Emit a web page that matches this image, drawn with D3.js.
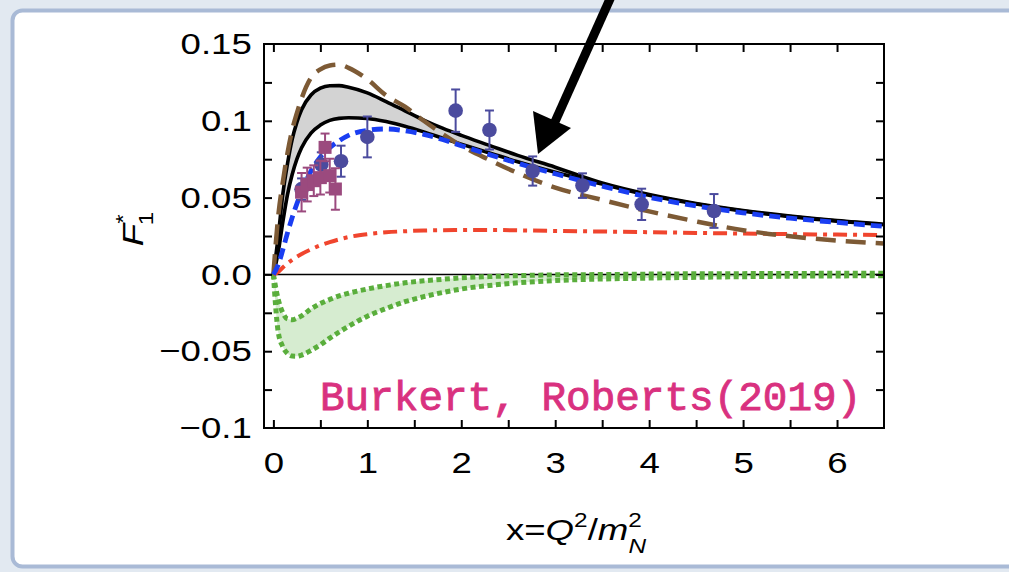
<!DOCTYPE html>
<html><head><meta charset="utf-8">
<script src="https://cdn.jsdelivr.net/npm/d3@7"></script>
<style>html,body{margin:0;padding:0;overflow:hidden;background:#e2e9f1}</style>
</head><body>
<svg id="chart" width="1009" height="572"></svg>
<script>
// ---------- data ----------
const gridX       = [0, 0.05, 0.1, 0.15, 0.2, 0.25, 0.3, 0.4, 0.5, 0.6, 0.7, 0.8, 1.0, 1.2, 1.4, 1.6, 1.8, 2.0, 2.3, 2.6, 3.0, 3.5, 4.0, 4.5, 5.0, 5.5, 6.0, 6.5];
const blackUpper  = [0, 0.024, 0.052, 0.072, 0.088, 0.099, 0.1072, 0.1168, 0.1212, 0.1228, 0.1229, 0.1218, 0.1182, 0.1125, 0.1065, 0.1005, 0.0952, 0.0905, 0.084, 0.0775, 0.0698, 0.0595, 0.052, 0.0462, 0.0416, 0.038, 0.035, 0.0326];
const blackLower  = [0, 0.014, 0.034, 0.052, 0.065, 0.075, 0.0825, 0.092, 0.0972, 0.1003, 0.1016, 0.102, 0.1015, 0.0995, 0.0965, 0.0928, 0.0888, 0.0848, 0.079, 0.0734, 0.0665, 0.0588, 0.0515, 0.0458, 0.0412, 0.0376, 0.0347, 0.0323];
const brownDashed = [0, 0.037, 0.060, 0.079, 0.094, 0.105, 0.1145, 0.128, 0.1335, 0.136, 0.1365, 0.1345, 0.127, 0.1165, 0.1092, 0.1, 0.0915, 0.0838, 0.0745, 0.066, 0.0565, 0.0485, 0.041, 0.0345, 0.0288, 0.0248, 0.022, 0.0201];
const blueDashed  = [0, 0.006, 0.016, 0.027, 0.037, 0.046, 0.054, 0.0672, 0.0765, 0.0825, 0.087, 0.0905, 0.0938, 0.0947, 0.0935, 0.0912, 0.0878, 0.0838, 0.078, 0.0724, 0.0655, 0.0575, 0.0502, 0.0446, 0.0401, 0.0366, 0.0338, 0.0313];
const redDashDot  = [0, 0.0015, 0.0045, 0.0072, 0.0095, 0.0115, 0.0133, 0.0163, 0.0189, 0.021, 0.0228, 0.0243, 0.0262, 0.0274, 0.0281, 0.0286, 0.0288, 0.0289, 0.0289, 0.0287, 0.0283, 0.0279, 0.0275, 0.027, 0.0266, 0.0262, 0.0259, 0.0256];
const greenUpper  = [0, -0.016, -0.025, -0.029, -0.0295, -0.0285, -0.027, -0.0225, -0.019, -0.0163, -0.014, -0.0123, -0.0095, -0.0073, -0.0055, -0.0042, -0.0032, -0.0022, -0.0014, -0.0008, -0.0003, -0.0001, 0.0002, 0.0004, 0.0005, 0.0006, 0.0007, 0.0007];
const greenLower  = [0, -0.037, -0.047, -0.0515, -0.0532, -0.0533, -0.0525, -0.0495, -0.0458, -0.0415, -0.0375, -0.0338, -0.0272, -0.0222, -0.0178, -0.0145, -0.0118, -0.0095, -0.0072, -0.0055, -0.004, -0.003, -0.0024, -0.0019, -0.0015, -0.0012, -0.001, -0.0008];

const circleX   = [0.30, 0.51, 0.72, 1.00, 1.94, 2.30, 2.76, 3.29, 3.92, 4.69];
const circleY   = [0.0555, 0.0715, 0.0737, 0.0895, 0.1066, 0.094, 0.0673, 0.0578, 0.0456, 0.0413];
const circleErr = [0.007, 0.008, 0.0101, 0.0133, 0.0138, 0.0127, 0.0095, 0.008, 0.0102, 0.011];

const squareX   = [0.30, 0.36, 0.43, 0.50, 0.55, 0.60, 0.66];
const squareY   = [0.0535, 0.0585, 0.061, 0.063, 0.0827, 0.0643, 0.0556];
const squareErr = [0.0125, 0.011, 0.010, 0.011, 0.009, 0.011, 0.0135];

const xTickLabels = ["0", "1", "2", "3", "4", "5", "6"];
const xTickValues = [0, 1, 2, 3, 4, 5, 6];
const yTickLabels = ["\u22120.1", "\u22120.05", "0.0", "0.05", "0.1", "0.15"];
const yTickValues = [-0.1, -0.05, 0, 0.05, 0.1, 0.15];
const annotation  = "Burkert, Roberts(2019)";

// ---------- layout ----------
const L = 264, R = 884, T = 44, B = 428;
const FONT = "'Liberation Sans', Arial, Helvetica, sans-serif";
const STRETCH = 1.22;

const svg = d3.select("#chart");
svg.append("rect").attr("width", 1009).attr("height", 572).attr("fill", "#e2e9f1");
svg.append("rect").attr("x", 12.5).attr("y", 10.5).attr("width", 1040).attr("height", 556)
   .attr("rx", 10).attr("fill", "#ffffff").attr("stroke", "#a9bad6").attr("stroke-width", 4);

const x = d3.scaleLinear().domain([-0.1, 6.5]).range([L, R]);
const y = d3.scaleLinear().domain([-0.1, 0.15]).range([B, T]);

svg.append("clipPath").attr("id", "plotclip").append("rect")
   .attr("x", L).attr("y", T).attr("width", R - L).attr("height", B - T);
const plot = svg.append("g").attr("clip-path", "url(#plotclip)");

const pts = arr => gridX.map((v, i) => [v, arr[i]]);
const line = d3.line().x(d => x(d[0])).y(d => y(d[1])).curve(d3.curveMonotoneX);
const band = (lo, hi) => d3.area().x((d, i) => x(gridX[i])).y0((d, i) => y(lo[i])).y1((d, i) => y(hi[i])).curve(d3.curveMonotoneX)(gridX);

// fills
plot.append("path").attr("d", band(blackLower, blackUpper)).attr("fill", "#d3d3d3");
plot.append("path").attr("d", band(greenLower, greenUpper)).attr("fill", "#d6ecd0");

// zero line
plot.append("line").attr("x1", L).attr("x2", R).attr("y1", y(0)).attr("y2", y(0))
    .attr("stroke", "#000").attr("stroke-width", 1.5);

// curves
const drawCurve = (arr, color, w, dash) => plot.append("path").attr("d", line(pts(arr)))
    .attr("fill", "none").attr("stroke", color).attr("stroke-width", w)
    .attr("stroke-dasharray", dash || null);
drawCurve(blackUpper, "#000", 3.6);
drawCurve(blackLower, "#000", 3.6);
drawCurve(greenUpper, "#5aae3c", 5, "5,3.5");
drawCurve(greenLower, "#5aae3c", 5, "5,3.5");
drawCurve(redDashDot, "#f0452e", 4, "14,6,4,6");
drawCurve(brownDashed, "#7d5a35", 4.5, "20,10");
drawCurve(blueDashed, "#1a3ef2", 4.8, "11,6");

// data points
const drawErr = (xs, ys, es, color) => {
  xs.forEach((v, i) => {
    const cx = x(v), y1 = y(ys[i] + es[i]), y2 = y(ys[i] - es[i]);
    plot.append("line").attr("x1", cx).attr("x2", cx).attr("y1", y1).attr("y2", y2).attr("stroke", color).attr("stroke-width", 2);
    [y1, y2].forEach(yy => plot.append("line").attr("x1", cx - 4.5).attr("x2", cx + 4.5).attr("y1", yy).attr("y2", yy).attr("stroke", color).attr("stroke-width", 2));
  });
};
drawErr(circleX, circleY, circleErr, "#4b4b9e");
plot.selectAll("circle.pt").data(circleX).enter().append("circle")
    .attr("cx", d => x(d)).attr("cy", (d, i) => y(circleY[i])).attr("r", 7.3).attr("fill", "#4b4b9e");
drawErr(squareX, squareY, squareErr, "#9b4a7e");
plot.selectAll("rect.sq").data(squareX).enter().append("rect")
    .attr("x", d => x(d) - 6.5).attr("y", (d, i) => y(squareY[i]) - 6.5).attr("width", 13).attr("height", 13).attr("fill", "#9b4a7e");

// frame
svg.append("rect").attr("x", L).attr("y", T).attr("width", R - L).attr("height", B - T)
   .attr("fill", "none").attr("stroke", "#000").attr("stroke-width", 2);

// minor/major inward ticks (all sides)
const xt = d3.range(0, 6.01, 0.5);
const yt = d3.range(-0.075, 0.1251, 0.025);
const tickStyle = g => { g.select(".domain").remove(); g.selectAll("line").attr("stroke", "#000").attr("stroke-width", 2); g.selectAll("text").remove(); };
svg.append("g").attr("transform", `translate(0,${B})`).call(d3.axisBottom(x).tickValues(xt).tickSize(-8)).call(tickStyle);
svg.append("g").attr("transform", `translate(0,${T})`).call(d3.axisTop(x).tickValues(xt).tickSize(-8)).call(tickStyle);
svg.append("g").attr("transform", `translate(${L},0)`).call(d3.axisLeft(y).tickValues(yt).tickSize(-8)).call(tickStyle);
svg.append("g").attr("transform", `translate(${R},0)`).call(d3.axisRight(y).tickValues(yt).tickSize(-8)).call(tickStyle);

// tick labels
const lab = g => { g.select(".domain").remove(); g.selectAll("text").attr("font-family", FONT).attr("font-size", 30).attr("fill", "#000"); };
const gx = svg.append("g").attr("transform", `translate(0,${B})`)
   .call(d3.axisBottom(x).tickValues(xTickValues).tickFormat((d, i) => xTickLabels[i]).tickSize(0).tickPadding(24)).call(lab);
gx.selectAll("text").attr("transform", `scale(${STRETCH},1)`);
const gy = svg.append("g").attr("transform", `translate(${L},0)`)
   .call(d3.axisLeft(y).tickValues(yTickValues).tickFormat((d, i) => yTickLabels[i]).tickSize(0).tickPadding(10)).call(lab);
gy.selectAll("text").attr("transform", `scale(${STRETCH},1)`);

// axis titles
const yl = svg.append("text").attr("transform", `translate(143,229) rotate(-90) scale(${STRETCH},1)`)
   .attr("text-anchor", "middle").attr("font-family", FONT).attr("font-size", 30);
yl.append("tspan").attr("font-style", "italic").text("F");
yl.append("tspan").attr("font-size", 20).attr("dy", -13).text("*");
yl.append("tspan").attr("font-size", 20).attr("dx", -9).attr("dy", 23).text("1");

const xl = svg.append("text").attr("transform", `translate(576,540) scale(${STRETCH},1)`)
   .attr("text-anchor", "middle").attr("font-family", FONT).attr("font-size", 30);
xl.append("tspan").text("x=");
xl.append("tspan").attr("font-style", "italic").text("Q");
xl.append("tspan").attr("font-size", 20).attr("dy", -13).text("2");
xl.append("tspan").attr("dy", 13).text("/");
xl.append("tspan").attr("font-style", "italic").text("m");
xl.append("tspan").attr("font-size", 20).attr("dy", -13).text("2");
xl.append("tspan").attr("font-size", 20).attr("font-style", "italic").attr("dx", -11).attr("dy", 26).text("N");

// annotation text
svg.append("text").attr("x", 320).attr("y", 410).attr("font-family", "'Liberation Mono', 'Courier New', monospace")
   .attr("font-size", 41).attr("fill", "#d9317f").attr("stroke", "#d9317f").attr("stroke-width", 0.9)
   .text(annotation);

// arrow
svg.append("line").attr("x1", 614).attr("y1", -10).attr("x2", 554).attr("y2", 124)
   .attr("stroke", "#000").attr("stroke-width", 9);
svg.append("path").attr("d", "M533,111 L571,128 L538,154 Z").attr("fill", "#000");
</script>
</body></html>
